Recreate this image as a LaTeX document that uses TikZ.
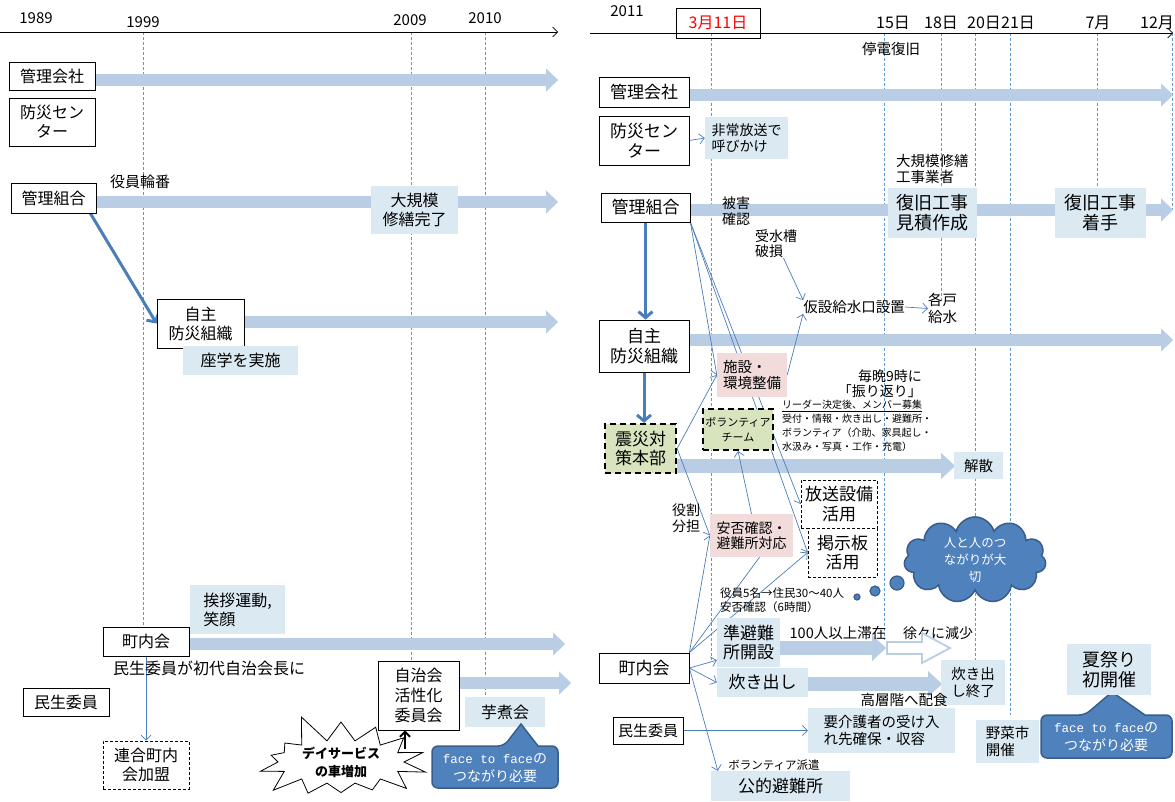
\documentclass[tikz,border=0pt]{standalone}
\usepackage{fontspec}
\setmainfont{Noto Sans CJK JP}
\newfontfamily\monof{Liberation Mono}
\usetikzlibrary{arrows.meta,shapes.symbols,shapes.geometric}
\pgfdeclarelayer{bg}
\pgfdeclarelayer{mid}
\pgfsetlayers{bg,mid,main}
\definecolor{bandc}{HTML}{B9CDE5}
\definecolor{lbox}{HTML}{DBEAF2}
\definecolor{pinkc}{HTML}{F2DCDB}
\definecolor{greenc}{HTML}{D7E4BD}
\definecolor{connc}{HTML}{4A7EBB}
\definecolor{dashc}{HTML}{5B9BD5}
\definecolor{callc}{HTML}{4F81BD}
\definecolor{callb}{HTML}{385D8A}
\tikzset{
 fA/.style={font=\fontsize{17}{19.5}\selectfont},
 fB/.style={font=\fontsize{16}{19}\selectfont},
 fY/.style={font=\fontsize{15}{18}\selectfont},
 fH/.style={font=\fontsize{18}{20}\selectfont},
 fC/.style={font=\fontsize{14.5}{16.5}\selectfont},
 fD/.style={font=\fontsize{14}{15.5}\selectfont},
 fE/.style={font=\fontsize{11.5}{14}\selectfont},
 fF/.style={font=\fontsize{10}{14}\selectfont},
 sz/.style 2 args={minimum width=#1pt,minimum height=#2pt},
 wbox/.style={draw=black,fill=white,line width=0.8pt,inner sep=0pt,align=center},
 lbx/.style={fill=lbox,inner sep=0pt,align=center},
 pbx/.style={fill=pinkc,inner sep=0pt,align=left},
 gbx/.style={draw=black,fill=greenc,line width=2.2pt,dash pattern=on 6pt off 4pt,inner sep=0pt,align=center},
 dbx/.style={draw=black,fill=white,line width=0.7pt,dash pattern=on 3pt off 2pt,inner sep=0pt,align=center},
 txt/.style={inner sep=0pt,align=left},
 band/.style={draw=bandc,line width=12pt,-{Triangle[width=23pt,length=12pt,line width=0.1pt]}},
 bandw/.style={draw=bandc,line width=14pt,-{Triangle[width=26pt,length=14pt,line width=0.1pt]}},
 vline/.style={draw=dashc,line width=0.7pt,dash pattern=on 3pt off 2pt},
 conn/.style={draw=connc,line width=0.7pt,-{Straight Barb[length=5pt,width=10pt]}},
 pline/.style={draw=connc,line width=0.7pt},
 bigarr/.style={draw=connc,line width=3pt,-{Straight Barb[length=6pt,width=14pt]}},
 blkarr/.style={draw=black,line width=2pt,-{Straight Barb[length=5pt,width=10pt]}},
 axisln/.style={draw=black,line width=0.6pt,-{Straight Barb[length=5pt,width=10pt]}},
 callout/.style={fill=callc,draw=callb,line width=1.5pt},
 bubble/.style={circle,fill=callc,draw=callb,line width=1.2pt,inner sep=0pt}
}
\begin{document}
\begin{tikzpicture}[x=1pt,y=-1pt]
\useasboundingbox (0,0) rectangle (1175,801);

% ===== LEFT PANEL =====
\coordinate (axL0) at (0,32); \coordinate (axL1) at (558,32);
\draw[axisln] (axL0) -- (axL1);
\node[fY] (y1989) at (36,18) {1989};
\node[fY] (y1999) at (143,22) {1999};
\node[fY] (y2009) at (410,20) {2009};
\node[fY] (y2010) at (485,18) {2010};

\node[wbox,fB,sz={86}{28}] (kaishaL) at (52,76) {管理会社};
\node[wbox,fB,sz={86}{48}] (bousaiL) at (52,122) {防災セン\\ター};
\node[txt,fY] (yakuin) at (140,182) {役員輪番};
\node[wbox,fB,sz={85}{30}] (kumiaiL) at (53.5,198) {管理組合};
\node[lbx,fB,sz={87}{48}] (daikibo) at (414.5,210) {大規模\\修繕完了};
\node[wbox,fB,sz={87}{49}] (jishuL) at (200.5,323.5) {自主\\防災組織};
\node[lbx,fB,sz={115}{29}] (zagaku) at (240.5,360.5) {座学を実施};
\node[lbx,fB,sz={95}{49},align=left] (aisatsu) at (237.5,609.5) {挨拶運動,\\笑顔};
\node[wbox,fB,sz={86}{29}] (chonaiL) at (146,641.5) {町内会};
\node[txt,fB,anchor=west] (minseiT) at (113,668) {民生委員が初代自治会長に};
\node[wbox,fB,sz={86}{28}] (minseiL) at (66,702) {民生委員};
\node[dbx,fB,sz={86}{48}] (rengo) at (146,765) {連合町内\\会加盟};
\node[wbox,fB,sz={81}{69},font=\fontsize{16}{20}\selectfont] (jichikai) at (418.5,695.5) {自治会\\活性化\\委員会};
\node[lbx,fB,sz={80}{30}] (imoni) at (505,712) {芋煮会};
\node[starburst,starburst points=14,starburst point height=30pt,random starburst=5,draw=black,fill=white,line width=0.8pt,minimum width=186pt,minimum height=100pt,inner sep=0pt,align=center,font=\bfseries\fontsize{13}{18}\selectfont] (ds) at (341,762) {デイサービス\\の車増加};
\coordinate (dsa) at (405,749);
\draw[blkarr] (dsa) -- (dsa |- jichikai.south);
\path[callout] [rounded corners=6pt] (432,746) -- (504,746) [sharp corners] -- (521,724) -- (538,746) [rounded corners=6pt] -- (558,746) -- (558,788) -- (432,788) -- cycle;
\node[txt,align=center,text=white,font=\fontsize{14}{18}\selectfont] (ftfL) at (495,768) {{\monof\fontsize{12.5}{18}\selectfont face to face}の\\つながり必要};

% ===== RIGHT PANEL =====
\coordinate (axR0) at (590,33); \coordinate (axR1) at (1173,33);
\draw[axisln] (axR0) -- (axR1);
\node[fY] (y2011) at (627,11) {2011};
\node[draw=black,line width=0.8pt,minimum width=84pt,minimum height=30pt,inner sep=0pt,text=red,fB] (d311) at (718,23) {3月11日};
\node[fB] (d15) at (893,23) {15日};
\node[fB] (d18) at (941,23) {18日};
\node[fB] (d20) at (984,23) {20日};
\node[fB] (d21) at (1018,23) {21日};
\node[fB] (m7) at (1098,23) {7月};
\node[fB] (m12) at (1157,23) {12月};
\node[txt,fC] (teiden) at (891,49) {停電復旧};

\node[wbox,fA,sz={90}{30}] (kaishaR) at (644,92) {管理会社};
\node[wbox,fA,sz={90}{49}] (bousaiR) at (644,140.5) {防災セン\\ター};
\node[lbx,fD,sz={83}{42},align=left] (hijo) at (746.5,138) {非常放送で\\呼びかけ};
\node[txt,fC,anchor=west] (daikiboR) at (896,169) {大規模修繕\\工事業者};
\node[wbox,fA,sz={89}{29}] (kumiaiR) at (645.5,207.5) {管理組合};
\node[txt,fD,anchor=west] (higai) at (722,211) {被害\\確認};
\node[lbx,fH,sz={89}{50}] (fukkyu1) at (932.5,213) {復旧工事\\見積作成};
\node[lbx,fH,sz={91}{50}] (fukkyu2) at (1100.5,213) {復旧工事\\着手};
\node[txt,fD,anchor=west] (jusuiso) at (755,243.5) {受水槽\\破損};
\node[txt,fC] (kyusui) at (854,307) {仮設給水口設置};
\node[txt,fC,anchor=west] (kakko) at (928,308.5) {各戸\\給水};
\node[wbox,fA,sz={90}{52}] (jishuR) at (644,346) {自主\\防災組織};
\node[pbx,fC,sz={70}{44}] (shisetsu) at (752,375) {施設・\\環境整備};
\node[txt,fD,anchor=east,align=right] (maiban) at (922,383.5) {毎晩9時に\\「振り返り」};
\node[txt,fF,anchor=north west] (leader) at (782,400) {\underline{リーダー決定後、メンバー募集}\\受付・情報・炊き出し・避難所・\\ボランティア（介助、家具起し・\\水汲み・写真・工作・充電）};
\node[gbx,font=\fontsize{11}{15}\selectfont,sz={70}{41}] (volunteer) at (738,429.5) {ボランティア\\チーム};
\node[gbx,fA,sz={71}{49}] (shinsai) at (640.5,448.5) {震災対\\策本部};
\node[lbx,fC,sz={49}{27}] (kaisan) at (978.5,465.5) {解散};
\node[dbx,fA,sz={76}{48}] (hoso) at (839,504) {放送設備\\活用};
\node[dbx,fA,sz={69}{49}] (keiji) at (842.5,552.5) {掲示板\\活用};
\node[txt,fD,anchor=west] (yakuwari) at (672,518) {役割\\分担};
\node[pbx,fD,sz={83}{43}] (anpi) at (751.5,535.5) {安否確認・\\避難所対応};
\node[cloud,cloud puffs=11,aspect=1.8,fill=callc,draw=callb,line width=1.5pt,minimum width=142pt,minimum height=78pt,inner sep=0pt,text=white,align=center,font=\fontsize{12.5}{17}\selectfont] (cloudn) at (975,560) {人と人のつ\\ながりが大\\切};
\node[bubble,minimum size=6pt] (b1) at (857,597) {};
\node[bubble,minimum size=10pt] (b2) at (875,591) {};
\node[bubble,minimum size=14pt] (b3) at (897,583) {};
\node[txt,fE,anchor=west] (yakuin5) at (720,600) {役員5名→住民30〜40人\\安否確認（6時間）};
\node[lbx,fA,sz={63}{49}] (junhinan) at (748.5,642.5) {準避難\\所開設};
\node[txt,fC] (t100) at (838,633) {100人以上滞在};
\node[txt,fD] (jojo) at (938,633) {徐々に減少};
\node[lbx,fA,sz={91}{29}] (takidashi) at (762.5,682.5) {炊き出し};
\node[lbx,fC,sz={64}{45}] (takiend) at (973,682.5) {炊き出\\し終了};
\node[txt,fC] (koso) at (904,700) {高層階へ配食};
\node[wbox,fA,sz={90}{30}] (chonaiR) at (644,668) {町内会};
\node[wbox,fY,sz={70}{27}] (minseiR) at (648,730.5) {民生委員};
\node[lbx,fC,sz={147}{45},align=left] (yokaigo) at (881.5,730.5) {要介護者の受け入\\れ先確保・収容};
\node[txt,fE] (haken) at (774,765) {ボランティア派遣};
\node[lbx,fA,sz={139}{30}] (kouteki) at (780.5,786) {公的避難所};
\node[lbx,fC,sz={63}{43},align=left] (yasai) at (1007.5,741.5) {野菜市\\開催};
\path[callout] [rounded corners=6pt] (1041,715) -- (1085,715) [sharp corners] -- (1112,692) -- (1145,715) [rounded corners=6pt] -- (1172,715) -- (1172,758) -- (1041,758) -- cycle;
\node[lbx,fH,sz={84}{51}] (natsu) at (1109,669.5) {夏祭り\\初開催};
\node[txt,align=center,text=white,font=\fontsize{14}{18}\selectfont] (ftfR) at (1106,737) {{\monof\fontsize{12.5}{18}\selectfont face to face}の\\つながり必要};

% hollow arrow
\draw[draw=bandc,line width=1.8pt,fill=white] (887,642) -- (922,642) -- (922,633) -- (950,648) -- (922,663) -- (922,654) -- (887,654) -- cycle;

% ===== background: dashed lines and bands =====
\begin{pgfonlayer}{bg}
\draw[vline] (143,32) -- (143,627);
\draw[vline] (411,32) -- (411,661);
\draw[vline] (485,32) -- (485,697);
\draw[vline] (711,33) -- (711,660);
\draw[vline] (884,33) -- (884,640);
\draw[vline] (941,33) -- (941,300);
\draw[vline] (975,33) -- (975,660);
\draw[vline] (1010,33) -- (1010,715);
\draw[vline] (1097,33) -- (1097,188);
\draw[vline] (1172,33) -- (1172,210);
\coordinate (e1) at (558,80);
\coordinate (e2) at (558,202);
\coordinate (e3) at (558,322);
\coordinate (e4) at (565,644);
\coordinate (e5) at (571,683);
\coordinate (e6) at (1173,95);
\coordinate (e7) at (1173,210);
\coordinate (e8) at (1173,340);
\coordinate (e9) at (955,466);
\coordinate (e10) at (886,648);
\coordinate (e11) at (942,684);
\draw[band] (kaishaL.east |- e1) -- (e1);
\draw[band] (kumiaiL.east |- e2) -- (e2);
\draw[band] (jishuL.east |- e3) -- (e3);
\draw[band] (chonaiL.east |- e4) -- (e4);
\draw[band] (jichikai.east |- e5) -- (e5);
\draw[band] (kaishaR.east |- e6) -- (e6);
\draw[band] (kumiaiR.east |- e7) -- (e7);
\draw[band] (jishuR.east |- e8) -- (e8);
\draw[bandw] (shinsai.east |- e9) -- (e9);
\draw[bandw] (junhinan.east |- e10) -- (e10);
\draw[bandw] (takidashi.east |- e11) -- (e11);
\end{pgfonlayer}

% ===== connectors =====
\begin{pgfonlayer}{mid}
\draw[bigarr] ([xshift=-6pt]kumiaiL.south east) -- (jishuL.west);
\draw[conn] (chonaiL.south) -- (rengo.north);
\draw[bigarr] (kumiaiR.south) -- (kumiaiR.south |- jishuR.north);
\draw[bigarr] (jishuR.south) -- (jishuR.south |- shinsai.north);
\draw[conn] (bousaiR.east) -- (hijo.west);
\draw[conn] (kumiaiR.south east) -- (shisetsu.west);
\draw[conn] (kumiaiR.south east) -- (hoso.west);
\draw[conn] (kumiaiR.south east) -- (keiji.west);
\draw[conn] (shinsai.east) -- (shisetsu.west);
\draw[conn] (shinsai.east) -- (anpi.west);
\draw[conn] (anpi.north) -- (volunteer.south);
\draw[conn] (shisetsu.east) -- (kyusui.south west);
\draw[conn] ([xshift=-14pt]jusuiso.south east) -- (kyusui.north west);
\draw[conn] (kyusui.east) -- (kakko.west);
\draw[conn] (chonaiR.north east) -- (anpi.west);
\draw[pline] (chonaiR.north east) -- ([xshift=8pt]anpi.south);
\draw[conn] (chonaiR.north east) -- (keiji.west);
\draw[conn] (chonaiR.east) -- ([yshift=7pt]junhinan.south west);
\draw[conn] (chonaiR.east) -- (takidashi.west);
\draw[conn] (chonaiR.east) -- ([xshift=7pt]kouteki.north west);
\draw[conn] (minseiR.east) -- (yokaigo.west);
\end{pgfonlayer}
\end{tikzpicture}
\end{document}
